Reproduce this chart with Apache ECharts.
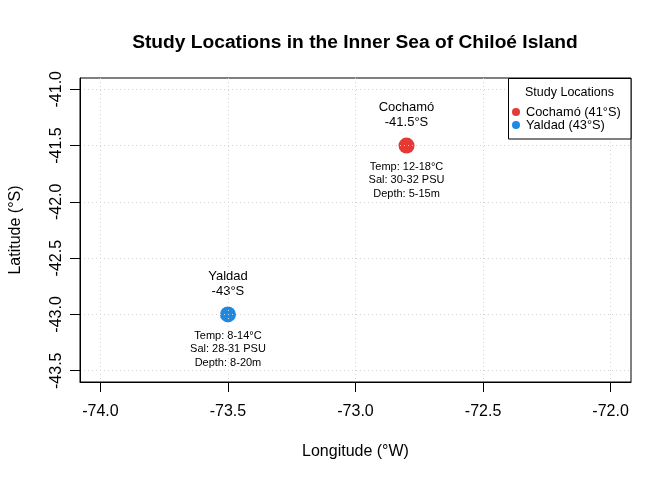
<!DOCTYPE html>
<html>
<head>
<meta charset="utf-8">
<script src="https://cdn.jsdelivr.net/npm/echarts@6/dist/echarts.min.js"></script>
<style>
html,body{margin:0;padding:0;background:#fff;}
#chart{width:672px;height:480px;}
</style>
</head>
<body>
<div id="chart"></div>
<script>
const chartTitle = 'Study Locations in the Inner Sea of Chiloé Island';
const legendTitle = 'Study Locations';
const locations = ['Cochamó', 'Yaldad'];
const legendNames = ['Cochamó (41°S)', 'Yaldad (43°S)'];
const longitudes = [-72.8, -73.5];
const latitudes = [-41.5, -43.0];
const latLabels = ['-41.5°S', '-43°S'];
const tempRanges = ['12-18°C', '8-14°C'];
const salRanges = ['30-32 PSU', '28-31 PSU'];
const depthRanges = ['5-15m', '8-20m'];
const colors = ['#E53935', '#1E88E5'];
const xTicks = [-74.0, -73.5, -73.0, -72.5, -72.0];
const yTicks = [-41.0, -41.5, -42.0, -42.5, -43.0, -43.5];
const xRange = [-74.08, -71.92];
const yRange = [-43.6, -40.9];

const FONT = '"Liberation Sans", Arial, Helvetica, sans-serif';
const chart = echarts.init(document.getElementById('chart'));

const series = [];
locations.forEach((loc, i) => {
  series.push({
    name: 'info-' + loc,
    type: 'scatter',
    symbol: 'circle',
    symbolSize: 16,
    itemStyle: { color: '#ffffff', opacity: 1 },
    data: [[longitudes[i], latitudes[i]]],
    label: {
      show: true,
      position: 'bottom',
      distance: 6.5,
      formatter: 'Temp: ' + tempRanges[i] + '\nSal: ' + salRanges[i] + '\nDepth: ' + depthRanges[i],
      fontFamily: FONT,
      fontSize: 11,
      lineHeight: 13.5,
      color: '#000000',
      opacity: 1
    },
    emphasis: { disabled: true },
    silent: true,
    z: 1
  });
  series.push({
    name: legendNames[i],
    type: 'scatter',
    symbol: 'circle',
    symbolSize: 16,
    itemStyle: { color: colors[i], opacity: 1 },
    data: [[longitudes[i], latitudes[i]]],
    label: {
      show: true,
      position: 'top',
      distance: 8,
      formatter: loc + '\n' + latLabels[i],
      fontFamily: FONT,
      fontSize: 13,
      lineHeight: 15,
      color: '#000'
    },
    emphasis: { disabled: true },
    z: 2
  });
});

const option = {
  animation: false,
  backgroundColor: '#fff',
  title: {
    text: chartTitle,
    left: 350,
    textAlign: 'center',
    top: 28,
    textStyle: { fontFamily: FONT, fontSize: 19.2, fontWeight: 'bold', color: '#000' }
  },
  grid: {
    left: 79, right: 41, top: 78, bottom: 98,
    show: true, borderColor: '#000', borderWidth: 1, backgroundColor: 'transparent'
  },
  xAxis: {
    type: 'value',
    min: xRange[0], max: xRange[1],
    name: 'Longitude (°W)',
    nameLocation: 'middle',
    nameGap: 62,
    nameTextStyle: { fontFamily: FONT, fontSize: 16, color: '#000' },
    axisLine: { show: true, lineStyle: { color: '#000', width: 1 } },
    axisTick: { show: true, length: 10, inside: false, customValues: xTicks, lineStyle: { color: '#000' } },
    axisLabel: { customValues: xTicks, margin: 22, fontFamily: FONT, fontSize: 16, color: '#000',
      formatter: v => v.toFixed(1) },
    splitLine: { show: true, lineStyle: { color: '#D3D3D3', type: [1, 3], width: 1 } },
    z: 3
  },
  yAxis: {
    type: 'value',
    min: yRange[0], max: yRange[1],
    name: 'Latitude (°S)',
    nameLocation: 'middle',
    nameGap: 56,
    nameRotate: 90,
    nameTextStyle: { fontFamily: FONT, fontSize: 16, color: '#000' },
    axisLine: { show: true, lineStyle: { color: '#000', width: 1 } },
    axisTick: { show: true, length: 10, customValues: yTicks, lineStyle: { color: '#000' } },
    axisLabel: { customValues: yTicks, rotate: 90, margin: 15, fontFamily: FONT, fontSize: 16, color: '#000',
      formatter: v => v.toFixed(1) },
    splitLine: { show: true, lineStyle: { color: '#D3D3D3', type: [1, 3], width: 1 } },
    z: 3
  },
  legend: {
    data: legendNames,
    orient: 'vertical',
    left: 512,
    top: 105.5,
    padding: 0,
    itemGap: 0,
    itemWidth: 14,
    itemHeight: 8,
    icon: 'circle',
    selectedMode: false,
    textStyle: { fontFamily: FONT, fontSize: 12.8, lineHeight: 12.6, color: '#000', padding: [0, 0, 0, -2] },
    z: 10
  },
  graphic: [
    {
      type: 'rect',
      z: 9,
      shape: { x: 508.5, y: 78.5, width: 122.5, height: 60.5 },
      style: { fill: '#fff', stroke: '#000', lineWidth: 1 }
    },
    {
      type: 'text',
      z: 10,
      x: 569.5, y: 93,
      style: { text: legendTitle, fontFamily: FONT, fontSize: 12.5, fill: '#000', align: 'center', verticalAlign: 'middle' }
    }
  ],
  series: series
};
chart.setOption(option);
</script>
</body>
</html>
